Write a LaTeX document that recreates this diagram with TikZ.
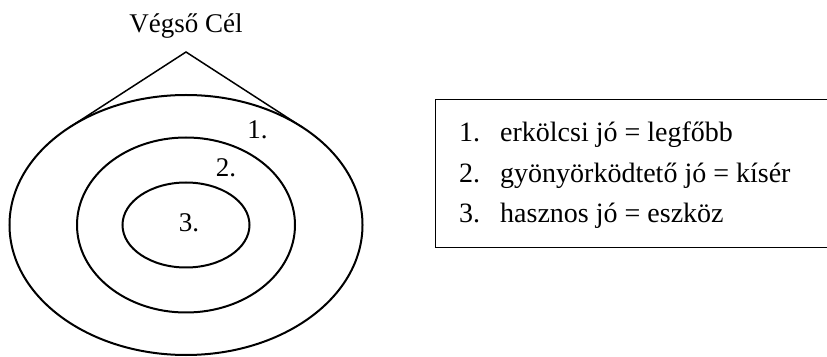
\documentclass[tikz,border=0pt]{standalone}
\usepackage{fontspec}
\setmainfont{Liberation Serif}
\begin{document}
\begin{tikzpicture}[x=1pt,y=1pt,
  ring/.style={line width=2pt},
  roof/.style={line width=1.5pt},
  lbl/.style={font=\fontsize{27}{32}\selectfont, inner sep=0pt, anchor=base},
  item/.style={font=\fontsize{28}{33}\selectfont, inner sep=0pt, anchor=base west}]
\useasboundingbox (0,0) rectangle (827,356);
\coordinate (c) at (186,131);
\coordinate (apex) at (186,304);
\coordinate (tl) at (69.6,228.7);
\coordinate (tr) at (302.4,228.7);
\draw[ring] (c) ellipse [x radius=176.5, y radius=130];
\draw[ring] (c) ellipse [x radius=109, y radius=87.5];
\draw[ring] (c) ellipse [x radius=63.5, y radius=42.5];
\draw[roof] (tl) -- (apex) -- (tr);
\node[lbl] (title) at (186,323) {Végső Cél};
\node[lbl] (n1) at (257.5,217) {1.};
\node[lbl] (n2) at (226,179) {2.};
\node[lbl] (n3) at (189,124) {3.};
% list box (right side cut by the page edge)
\coordinate (bTR) at (827,256);
\coordinate (bTL) at (435,256);
\coordinate (bBL) at (435,108);
\coordinate (bBR) at (827,108);
\draw[line width=1pt] (bTR) -- (bTL) -- (bBL) -- (bBR);
\node[item] (k1) at (459,214.3) {1.};
\node[item] (t1) at (500,214.3) {erkölcsi jó = legfőbb};
\node[item] (k2) at (459,173.3) {2.};
\node[item] (t2) at (500,173.3) {gyönyörködtető jó = kísér};
\node[item] (k3) at (459,133) {3.};
\node[item] (t3) at (500,133) {hasznos jó = eszköz};
\end{tikzpicture}
\end{document}
